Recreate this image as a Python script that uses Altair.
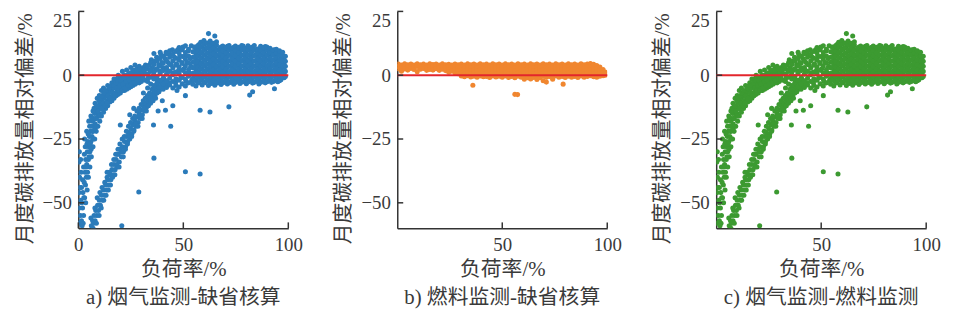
import altair as alt
import pandas as pd

# ---------------- data ----------------
# Panel a (and c): low-load upper branch, points as [load %, deviation %]
a_upper = [
    [0.3, -58], [0.5, -52], [0.4, -46], [0.6, -40], [0.3, -34], [0.5, -30], [1.0, -55], [1.2, -49],
    [1.5, -44], [1.3, -38], [1.8, -59], [2.0, -52], [2.2, -46], [2.0, -41], [2.5, -36], [2.8, -42],
    [3.0, -48], [3.2, -38], [3.5, -33], [3.3, -28], [3.8, -40], [4.0, -35], [4.3, -30], [4.5, -26],
    [4.8, -33], [5.0, -28], [5.3, -24], [5.5, -30], [5.8, -22], [6.0, -26], [6.3, -20], [6.5, -24],
    [6.8, -18], [7.0, -22], [7.3, -17], [7.5, -20], [7.8, -15], [8.0, -19], [8.3, -14], [8.6, -17],
    [9.0, -13], [9.3, -16], [9.6, -12], [10.0, -15], [10.4, -11], [10.8, -13], [11.2, -10], [11.6, -12.5],
    [12.0, -9], [12.5, -11], [13.0, -8], [13.5, -10], [14.0, -7], [14.5, -9], [15.0, -6.5], [15.5, -8.5],
    [16.0, -5.5], [16.5, -7.5], [17.0, -5], [17.5, -7], [18.0, -4], [18.5, -6], [19.0, -3.5], [19.5, -5.5],
    [20.0, -3], [20.5, -5], [21.0, -2.5], [21.5, -4.5], [22.0, -2], [22.5, -4], [23.0, -1.5], [23.5, -3.5],
    [24.0, -1], [24.5, -3], [25.0, -0.5], [25.5, -2.5], [26.0, 0], [26.5, -2], [27.0, 0.5], [27.5, -1.5],
    [28.0, 1], [28.5, -1], [29.0, 1.5], [29.5, -0.5], [30.0, 2], [30.5, 0], [31.0, 3], [31.5, 1], [32.0, 4],
    [1.5, -57], [2.5, -55], [3.5, -50], [4.2, -45], [4.8, -40], [5.5, -36], [6.2, -32], [7.0, -28],
    [7.8, -25], [8.5, -22], [9.3, -20], [10.2, -18], [11.0, -16], [12.0, -14.5], [13.0, -13], [14.0, -12],
    [15.0, -10.5], [16.0, -10], [17.0, -9], [18.0, -8], [19.0, -7.5], [20.0, -7], [21.0, -6], [22.0, -6],
    [23.0, -5.5], [24.0, -5], [25.0, -4.5], [26.0, -4], [27.0, -3.5], [28.0, -3], [29.0, -3], [30.0, -2.5],
    [3.0, -25], [4.0, -22], [5.0, -18], [6.0, -16], [7.0, -14], [8.0, -11], [9.0, -9], [10.0, -8],
    [11.0, -6], [12.0, -5], [14.0, -4], [16.0, -3], [18.0, -1.5], [20.0, -1], [22.0, 0], [24.0, 0.5],
    [26.0, 1.5], [28.0, 2.5], [19.0, 0], [17.0, -1.5], [21.0, 1.5], [23.0, 2], [25.0, 3], [27.0, 4], [29.0, 3.5],
]

# Panel a (and c): more points of the upper branch and of its merge into the cluster
a_upper_fill = [
    [0.8, -44], [1.1, -33], [1.6, -50], [2.3, -58], [2.6, -48], [2.9, -31], [3.4, -43], [3.7, -36],
    [4.1, -27], [4.4, -38], [4.7, -23], [5.1, -32], [5.4, -20], [5.7, -27], [6.1, -29], [6.4, -17],
    [6.7, -22], [7.2, -25], [7.5, -13], [7.9, -21], [8.2, -17], [8.7, -12], [8.9, -20], [9.4, -14],
    [9.8, -10], [10.3, -16], [10.6, -9], [11.1, -13], [11.4, -8], [11.9, -11], [12.3, -7], [12.8, -12],
    [13.2, -6], [13.7, -11], [14.2, -8], [14.7, -5], [15.2, -9], [15.7, -4], [16.2, -7], [16.8, -4],
    [17.3, -8], [17.8, -3], [18.3, -5], [18.8, -2], [19.3, -6], [19.8, -4], [20.3, -2], [20.8, -6],
    [21.3, -3.5], [21.8, -1], [22.3, -5], [22.8, -2.5], [23.3, 0], [23.8, -4], [24.3, -2], [24.8, 1],
    [25.3, -3.5], [25.8, -1], [26.3, 2], [26.8, -3], [27.3, -0.5], [27.8, 2], [28.3, -2], [28.8, 0],
    [29.3, 2.5], [29.8, -1.5], [30.3, 1], [30.8, -1], [31.3, 2], [31.8, -2], [32.3, 0.5], [32.8, 2.5],
    [33.3, -1], [33.8, 4], [34.3, 1.5], [34.8, 6], [35.3, 3], [35.8, 0], [36.3, 5.5], [36.8, 2],
    [37.3, 7], [37.8, -2], [38.3, 4], [38.8, 1.5], [39.3, 8], [39.8, 5], [40.3, 3], [40.8, -1.5],
    [41.3, 6.5], [41.8, 9], [42.3, 2], [42.8, 5], [43.3, -3], [43.8, 8], [44.3, 4], [44.8, 10],
    [45.3, 1], [45.8, 7], [46.3, -3], [46.8, 4.5], [47.3, 10], [47.8, 2], [48.3, 7.5], [48.8, -1],
    [49.3, 5], [49.8, 11], [50.3, 2.5], [50.8, 7.5], [51.3, -2.5], [51.8, 5], [52.3, 9.5], [52.8, 1],
    [53.3, 6.5], [53.8, 11.5], [54.0, -2], [53.5, 3.5],
]

# Panel a (and c): low-load lower branch
a_lower = [
    [6.2, -59], [6.8, -57], [7.0, -60], [7.5, -55], [8.0, -57], [8.3, -53], [8.8, -55], [9.2, -51],
    [9.6, -53], [10.0, -49], [10.5, -51], [11.0, -47], [11.5, -49], [12.0, -45], [12.5, -47], [13.0, -43],
    [13.5, -45], [14.0, -41], [14.5, -43], [15.0, -39], [15.5, -41], [16.0, -37], [16.5, -39], [17.0, -35],
    [17.5, -37], [18.0, -33], [18.5, -36], [19.0, -31], [19.5, -34], [20.0, -29], [20.5, -32], [21.0, -28],
    [21.5, -30], [22.0, -26], [22.5, -28], [23.0, -24], [23.5, -26], [24.0, -22.5], [24.5, -25], [25.0, -21],
    [25.5, -23], [26.0, -19.5], [26.5, -21.5], [27.0, -18], [27.5, -20], [28.0, -16.5], [28.5, -18.5],
    [29.0, -15], [29.5, -17], [30.0, -13.5], [30.5, -15.5], [31.0, -12], [31.5, -14], [32.0, -11],
    [32.5, -12.5], [33.0, -9.5], [33.5, -11], [34.0, -8.5], [34.5, -10], [35.0, -7.5], [35.5, -9],
    [36.0, -6.5], [36.5, -8], [37.0, -5.5], [37.5, -7], [38.0, -4.5], [39.0, -5.5], [40.0, -3.5], [41.0, -4.5],
]
a_lower_fill = [
    [6.0, -56], [7.3, -58], [7.9, -52], [8.6, -58], [9.0, -48], [9.9, -55], [10.3, -46], [10.9, -52],
    [11.3, -44], [12.1, -49], [12.6, -42], [13.2, -47], [13.7, -40], [14.3, -45], [14.8, -38], [15.3, -43],
    [15.8, -35], [16.3, -40], [16.9, -33], [17.4, -39], [17.8, -31], [18.3, -35], [18.9, -29], [19.4, -36],
    [19.8, -27], [20.4, -30], [20.9, -25], [21.4, -32], [21.9, -24], [22.4, -29], [22.9, -22], [23.4, -27],
    [23.9, -20], [24.4, -24], [24.9, -18.5], [25.4, -24], [25.9, -17], [26.4, -22], [26.9, -16], [27.4, -19],
    [27.9, -14], [28.4, -20], [28.9, -13], [29.4, -16], [29.9, -11.5], [30.4, -17], [30.9, -10], [31.4, -13],
    [31.9, -9], [32.4, -14], [32.9, -8], [33.4, -12], [33.9, -7], [34.4, -11], [35.1, -5.5], [35.6, -10],
    [36.2, -4.5], [36.8, -9], [37.4, -3.5], [38.4, -6.5], [39.4, -3], [40.4, -5.5], [41.5, -2.5], [42.5, -3.5],
]

# Panel a (and c): isolated points
a_stray = [
    [51, -8], [58, -13.7], [62.7, -14.4], [71.7, -12.4], [81.6, -7.8], [83, -6.5], [93.4, -5.3],
    [44, -20], [36, -32.5], [51, -37.8], [58, -38.7], [28.8, -45.8], [20.7, -59], [26.4, -13],
    [20, -19.5], [35.8, -19.5], [41.5, -13.7], [40, -10], [18.5, -31], [13.7, -38], [24.5, -15.5],
    [31, -7], [33, -5], [38, -14], [45, -12], [47, -6],
]

# Panel a (and c): dense cluster, one load value per column with its deviations
a_cluster_load = [33, 34.5, 36, 37.5, 39, 40.5, 42, 43.5, 45, 46.5, 48, 49.5, 51, 52.5,
                  54.5, 56.0, 57.5, 59.0, 60.5, 62.0, 63.5, 65.0, 66.5, 68.0, 69.5, 71.0, 72.5, 74.0,
                  75.5, 77.0, 78.5, 80.0, 81.5, 83.0, 84.5, 86.0, 87.5, 89.0, 90.5, 92.0, 93.5, 95.0,
                  96.5, 98.0]
a_cluster_dev = [
    [-2.5, 0.5, 3.5],
    [-3.5, -0.8, 2.0, 5.0],
    [-4.0, -1.5, 1.2, 4.2, 8.5],
    [-3.0, -0.5, 2.5, 5.5],
    [-4.5, -2.0, 0.8, 3.6, 6.5, 9.0],
    [-3.5, -1.0, 1.8, 4.8, 7.5],
    [-4.8, -2.2, 0.4, 3.0, 5.8, 8.4],
    [-3.8, -1.2, 1.5, 4.2, 7.0, 9.6],
    [-5.0, -2.5, 0.2, 2.8, 5.6, 8.2],
    [-4.0, -1.4, 1.2, 3.9, 6.6, 9.3],
    [-4.6, -2.0, 0.6, 3.3, 6.0, 8.8, 10.8],
    [-3.4, -0.8, 1.9, 4.6, 7.3, 10.0],
    [-4.2, -1.6, 0.9, 3.6, 6.2, 8.9, 11.5],
    [-3.0, -0.4, 2.2, 4.9, 7.5, 10.2],
    [-3.5, -1.2, 0.8, 2.9, 5.1, 7.0, 9.2],
    [-4.2, -2.0, 0.1, 2.2, 4.0, 6.3, 8.4, 10.6],
    [-3.0, -0.8, 1.4, 3.5, 5.6, 7.7, 9.8, 12.0],
    [-3.8, -1.6, 0.5, 2.6, 4.7, 6.8, 8.9, 11.1],
    [-2.9, -0.6, 1.5, 3.7, 5.9, 7.9, 10.2, 12.6],
    [-4.0, -1.9, 0.3, 2.4, 4.4, 6.6, 8.7, 10.8, 16.3],
    [-3.2, -1.0, 1.1, 3.2, 5.3, 7.4, 9.6, 11.7],
    [-3.9, -1.7, 0.4, 2.5, 4.8, 6.9, 9.0, 11.2, 15.4],
    [-3.0, -0.9, 1.3, 3.4, 5.5, 7.6, 9.9],
    [-3.6, -1.4, 0.7, 2.8, 4.9, 7.0, 9.2, 11.0],
    [-2.7, -0.5, 1.6, 3.8, 6.0, 8.1, 10.3],
    [-3.4, -1.2, 0.9, 3.0, 5.2, 7.3, 9.4, 11.3],
    [-2.8, -0.7, 1.4, 3.6, 5.7, 7.9, 10.0],
    [-3.5, -1.3, 0.8, 2.9, 5.0, 7.1, 9.3, 10.9],
    [-2.5, -0.4, 1.7, 3.9, 6.1, 8.2, 10.4],
    [-3.2, -1.1, 1.0, 3.1, 5.3, 7.4, 9.5],
    [-2.6, -0.6, 1.5, 3.6, 5.8, 7.8, 10.1, 11.4],
    [-3.3, -1.2, 0.9, 3.0, 5.1, 7.2, 9.3],
    [-2.4, -0.3, 1.8, 3.9, 6.0, 8.0, 10.2],
    [-3.1, -1.0, 1.1, 3.2, 5.4, 7.5, 9.6, 11.0],
    [-2.5, -0.5, 1.6, 3.7, 5.8, 7.9, 10.0],
    [-3.4, -1.3, 0.8, 2.9, 5.0, 7.1, 9.2],
    [-2.6, -0.4, 1.7, 3.8, 5.9, 8.1, 10.3],
    [-3.0, -0.9, 1.2, 3.3, 5.4, 7.5, 9.7, 11.2],
    [-2.3, -0.2, 1.9, 4.0, 6.1, 8.2, 10.1],
    [-2.8, -0.7, 1.4, 3.5, 5.6, 7.7, 9.6],
    [-2.2, -0.1, 2.0, 4.1, 6.2, 8.3, 10.0],
    [-2.6, -0.6, 1.5, 3.6, 5.7, 7.8, 9.4],
    [-1.8, 0.3, 2.4, 4.5, 6.6, 8.5],
    [-1.0, 1.0, 3.0, 5.0, 7.0],
]
# second set of cluster columns, between the ones above
a_cluster2_load = [55.3, 56.8, 58.3, 59.8, 61.3, 62.8, 64.3, 65.8, 67.3, 68.8, 70.3, 71.8, 73.3, 74.8,
                   76.3, 77.8, 79.3, 80.8, 82.3, 83.8, 85.3, 86.8, 88.3, 89.8, 91.3, 92.8, 94.3, 95.8,
                   97.3, 98.6]
a_cluster2_dev = [
    [-2.0, 0.9, 3.0, 5.2, 7.1, 9.2, 11.0],
    [-3.0, -0.9, 1.1, 3.1, 5.2, 7.3, 9.4, 11.5],
    [-2.0, 0.1, 2.4, 4.5, 6.7, 8.8, 11.0, 12.9],
    [-2.7, -0.5, 1.6, 3.8, 5.8, 7.9, 10.0, 12.0, 13.6],
    [-2.0, 0.0, 2.2, 4.4, 6.5, 8.6, 10.8, 12.6],
    [-2.9, -0.8, 1.3, 3.4, 5.5, 7.6, 9.8, 11.9, 13.4],
    [-2.1, 0.0, 2.1, 4.2, 6.3, 8.4, 10.6, 12.5],
    [-2.9, -0.8, 1.3, 3.4, 5.6, 7.7, 9.9, 11.8, 13.1],
    [-2.0, 0.1, 2.2, 4.3, 6.4, 8.5, 10.6],
    [-3.0, -0.9, 1.2, 3.3, 5.4, 7.5, 9.6, 11.4],
    [-2.0, 0.2, 2.3, 4.4, 6.6, 8.7, 10.8],
    [-2.8, -0.7, 1.4, 3.5, 5.7, 7.8, 9.9, 11.6],
    [-2.0, 0.1, 2.2, 4.4, 6.5, 8.6, 10.6],
    [-2.9, -0.8, 1.3, 3.4, 5.5, 7.6, 9.7, 11.4],
    [-1.9, 0.2, 2.3, 4.5, 6.6, 8.8, 10.9],
    [-2.7, -0.6, 1.5, 3.6, 5.8, 7.9, 10.0, 11.6],
    [-1.9, 0.2, 2.3, 4.5, 6.6, 8.6, 10.6],
    [-2.7, -0.6, 1.5, 3.6, 5.7, 7.8, 9.9, 11.5],
    [-1.8, 0.3, 2.4, 4.6, 6.7, 8.8, 10.8],
    [-2.8, -0.7, 1.4, 3.5, 5.6, 7.7, 9.8, 11.6],
    [-1.9, 0.2, 2.3, 4.4, 6.5, 8.6, 10.3],
    [-2.8, -0.7, 1.4, 3.5, 5.6, 7.7, 9.8, 11.3],
    [-1.8, 0.3, 2.4, 4.5, 6.6, 8.8, 10.8],
    [-2.6, -0.5, 1.6, 3.7, 5.8, 7.9, 9.9, 11.0],
    [-1.7, 0.4, 2.5, 4.6, 6.7, 8.8, 10.6],
    [-2.5, -0.4, 1.7, 3.8, 5.9, 8.0, 9.9],
    [-1.6, 0.5, 2.6, 4.7, 6.8, 8.8, 10.2],
    [-2.2, -0.1, 2.0, 4.1, 6.0, 8.0, 9.6],
    [-0.8, 1.3, 3.5, 5.6, 7.6, 9.0],
    [-0.5, 1.5, 3.5, 5.5, 7.4],
]

# Panel b: band of points, one load value per column with its deviations
b_band_load = [0.5, 2.0, 3.5, 5.0, 6.5, 8.0, 9.5, 11.0, 12.5, 14.0, 15.5, 17.0, 18.5, 20.0, 21.5,
               23.0, 24.5, 26.0, 27.5, 29.0, 30.5, 32.0, 33.5, 35.0, 36.5, 38.0, 39.5, 41.0, 42.5,
               44.0, 45.5, 47.0, 48.5, 50.0, 51.5, 53.0, 54.5, 56.0, 57.5, 59.0, 60.5, 62.0, 63.5,
               65.0, 66.5, 68.0, 69.5, 71.0, 72.5, 74.0, 75.5, 77.0, 78.5, 80.0, 81.5, 83.0, 84.5,
               86.0, 87.5, 89.0, 90.5, 92.0, 93.5, 95.0, 96.5, 98.0, 99.0]
b_band_dev = [
    [4.4, 3.4, 2.5], [4.0, 3.0, 1.6], [4.5, 3.5, 2.4], [4.1, 3.0, 2.0], [4.4, 3.3, 2.6],
    [4.0, 3.0, 2.2], [4.5, 3.4, 1.4], [4.1, 3.1, 2.3], [4.4, 3.5, 2.6], [4.0, 3.0, 1.9],
    [4.5, 3.4, 2.2], [4.2, 3.1, 2.0], [4.4, 3.5, 2.5], [4.0, 2.9, 1.9], [4.5, 3.4, 2.3],
    [4.1, 3.0, 1.8], [4.3, 3.3, 2.2, 1.2], [4.0, 2.9, 1.6], [4.4, 3.3, 2.2, 1.0], [4.1, 3.0, 1.8, 0.6],
    [4.4, 3.2, 2.0, 0.9, -0.3], [4.0, 2.8, 1.6, 0.4, -0.6], [4.5, 3.3, 2.1, 0.9, -0.2],
    [4.1, 2.9, 1.7, 0.5, -0.7], [4.4, 3.2, 2.0, 0.8, -0.4], [4.0, 2.8, 1.6, 0.4, -0.8],
    [4.5, 3.3, 2.1, 0.9, -0.3], [4.1, 2.9, 1.7, 0.5, -0.6], [4.4, 3.2, 2.0, 0.8, -0.5],
    [4.0, 2.8, 1.6, 0.4, -0.9], [4.5, 3.3, 2.1, 0.9, -0.3], [4.1, 2.9, 1.7, 0.5, -0.7],
    [4.4, 3.2, 2.0, 0.8, -0.4], [4.0, 2.8, 1.6, 0.4, -0.8], [4.5, 3.3, 2.1, 0.9, -0.3],
    [4.1, 2.9, 1.7, 0.5, -0.9], [4.4, 3.2, 2.0, 0.8, -0.5], [4.0, 2.8, 1.6, 0.4, -1.0],
    [4.5, 3.3, 2.1, 0.9, -0.4], [4.1, 2.9, 1.7, 0.5, -0.8], [4.4, 3.2, 2.0, 0.8, -0.6, -1.6],
    [4.0, 2.8, 1.6, 0.4, -1.0], [4.5, 3.3, 2.1, 0.9, -0.4, -1.5], [4.1, 2.9, 1.7, 0.5, -0.9],
    [4.4, 3.2, 2.0, 0.8, -0.5, -1.7], [4.0, 2.8, 1.6, 0.4, -1.0], [4.5, 3.3, 2.1, 0.9, -0.4, -2.2],
    [4.1, 2.9, 1.7, 0.5, -0.8], [4.4, 3.2, 2.0, 0.8, -0.5], [4.0, 2.8, 1.6, 0.4, -0.9, -1.6],
    [4.5, 3.3, 2.1, 0.9, -0.3], [4.1, 2.9, 1.7, 0.5, -0.8], [4.4, 3.2, 2.0, 0.8, -0.5],
    [4.0, 2.8, 1.6, 0.4, -0.9], [4.5, 3.3, 2.1, 0.9, -0.4], [4.1, 2.9, 1.7, 0.5, -0.8],
    [4.4, 3.2, 2.0, 0.8, -0.5], [4.0, 2.8, 1.6, 0.4, -0.9], [4.5, 3.3, 2.1, 0.9, -0.3],
    [4.1, 2.9, 1.7, 0.5, -0.8], [4.4, 3.2, 2.0, 0.8, -0.5], [4.6, 3.4, 2.2, 1.0, -0.2],
    [4.3, 3.1, 1.9, 0.7, -0.6], [3.8, 2.6, 1.4, 0.2, -0.8], [3.2, 2.0, 0.8, -0.4],
    [2.2, 1.0, -0.2], [1.2, 0.0],
]
b_stray = [[36, -3.9], [56, -7.5], [57.3, -7.6], [71, -2.7], [79, -3.5]]

x_ticks_a = [0, 50, 100]
x_ticks_bc = [50, 100]
y_ticks = [-50, -25, 0, 25]

captions = ["a) 烟气监测-缺省核算", "b) 燃料监测-缺省核算", "c) 烟气监测-燃料监测"]
colors = ["#2b7bba", "#f0862f", "#3c9a31"]

# ---------------- tables ----------------
def pairs_df(*groups):
    rows = [{"load": p[0], "dev": p[1]} for g in groups for p in g]
    return pd.DataFrame(rows)


def columns_df(loads, devs):
    rows = [{"load": x, "dev": y} for x, ys in zip(loads, devs) for y in ys]
    return pd.DataFrame(rows)


df_a = pd.concat([
    pairs_df(a_upper, a_upper_fill, a_lower, a_lower_fill, a_stray),
    columns_df(a_cluster_load, a_cluster_dev),
    columns_df(a_cluster2_load, a_cluster2_dev),
])
df_b = pd.concat([columns_df(b_band_load, b_band_dev), pairs_df(b_stray)])
df_c = df_a.copy()

FONT = "Liberation Serif, Times New Roman, Noto Sans CJK SC"
TXT = "#3a3a3a"
AX = "#333333"
RED = "#e3262c"
W, H = 212, 219


def panel(df, color, xticks, caption):
    xs = alt.Scale(domain=[0, 100], nice=False, zero=False)
    ys = alt.Scale(domain=[-60, 25], nice=False, zero=False)
    pts = alt.Chart(df).mark_circle(size=26, opacity=1, color=color, clip=True).encode(
        x=alt.X("load:Q", scale=xs, axis=alt.Axis(values=xticks, title="负荷率/%", labelFlush=False,
                                                  labelPadding=7, titlePadding=5)),
        y=alt.Y("dev:Q", scale=ys, axis=alt.Axis(values=y_ticks, title="月度碳排放量相对偏差/%",
                                                 labelFlush=True, labelPadding=7, titlePadding=7,
                                                 titleY=118)),
    )
    zero = alt.Chart(pd.DataFrame({"dev": [0]})).mark_rule(color=RED, strokeWidth=2).encode(
        y=alt.Y("dev:Q", scale=ys), x=alt.datum(0), x2=alt.datum(100)
    )
    xt = alt.Chart(pd.DataFrame({"load": xticks})).mark_rule(color=AX, strokeWidth=1.5).encode(
        x=alt.X("load:Q", scale=xs), y=alt.value(H), y2=alt.value(H - 6)
    )
    yt = alt.Chart(pd.DataFrame({"dev": y_ticks})).mark_rule(color=AX, strokeWidth=1.5).encode(
        y=alt.Y("dev:Q", scale=ys), x=alt.value(0), x2=alt.value(6)
    )
    return alt.layer(pts, zero, xt, yt).properties(
        width=W, height=H,
        title=alt.TitleParams(caption, orient="bottom", anchor="middle", offset=7),
    )


chart = alt.hconcat(
    panel(df_a, colors[0], x_ticks_a, captions[0]),
    panel(df_b, colors[1], x_ticks_bc, captions[1]),
    panel(df_c, colors[2], x_ticks_bc, captions[2]),
    spacing=110,
    bounds="flush",
).properties(
    padding={"left": 6, "top": 1, "right": 5, "bottom": 0}
).configure_view(stroke=None).configure_axis(
    domainColor=AX, domainWidth=1.5, ticks=False, grid=False,
    labelFont=FONT, labelFontSize=19, labelColor=TXT,
    titleFont=FONT, titleFontSize=21, titleFontWeight="normal", titleColor=TXT,
).configure_title(
    font=FONT, fontSize=21, fontWeight="normal", color=TXT,
)

chart.save("out.html", embed_options={"renderer": "svg", "actions": False})
